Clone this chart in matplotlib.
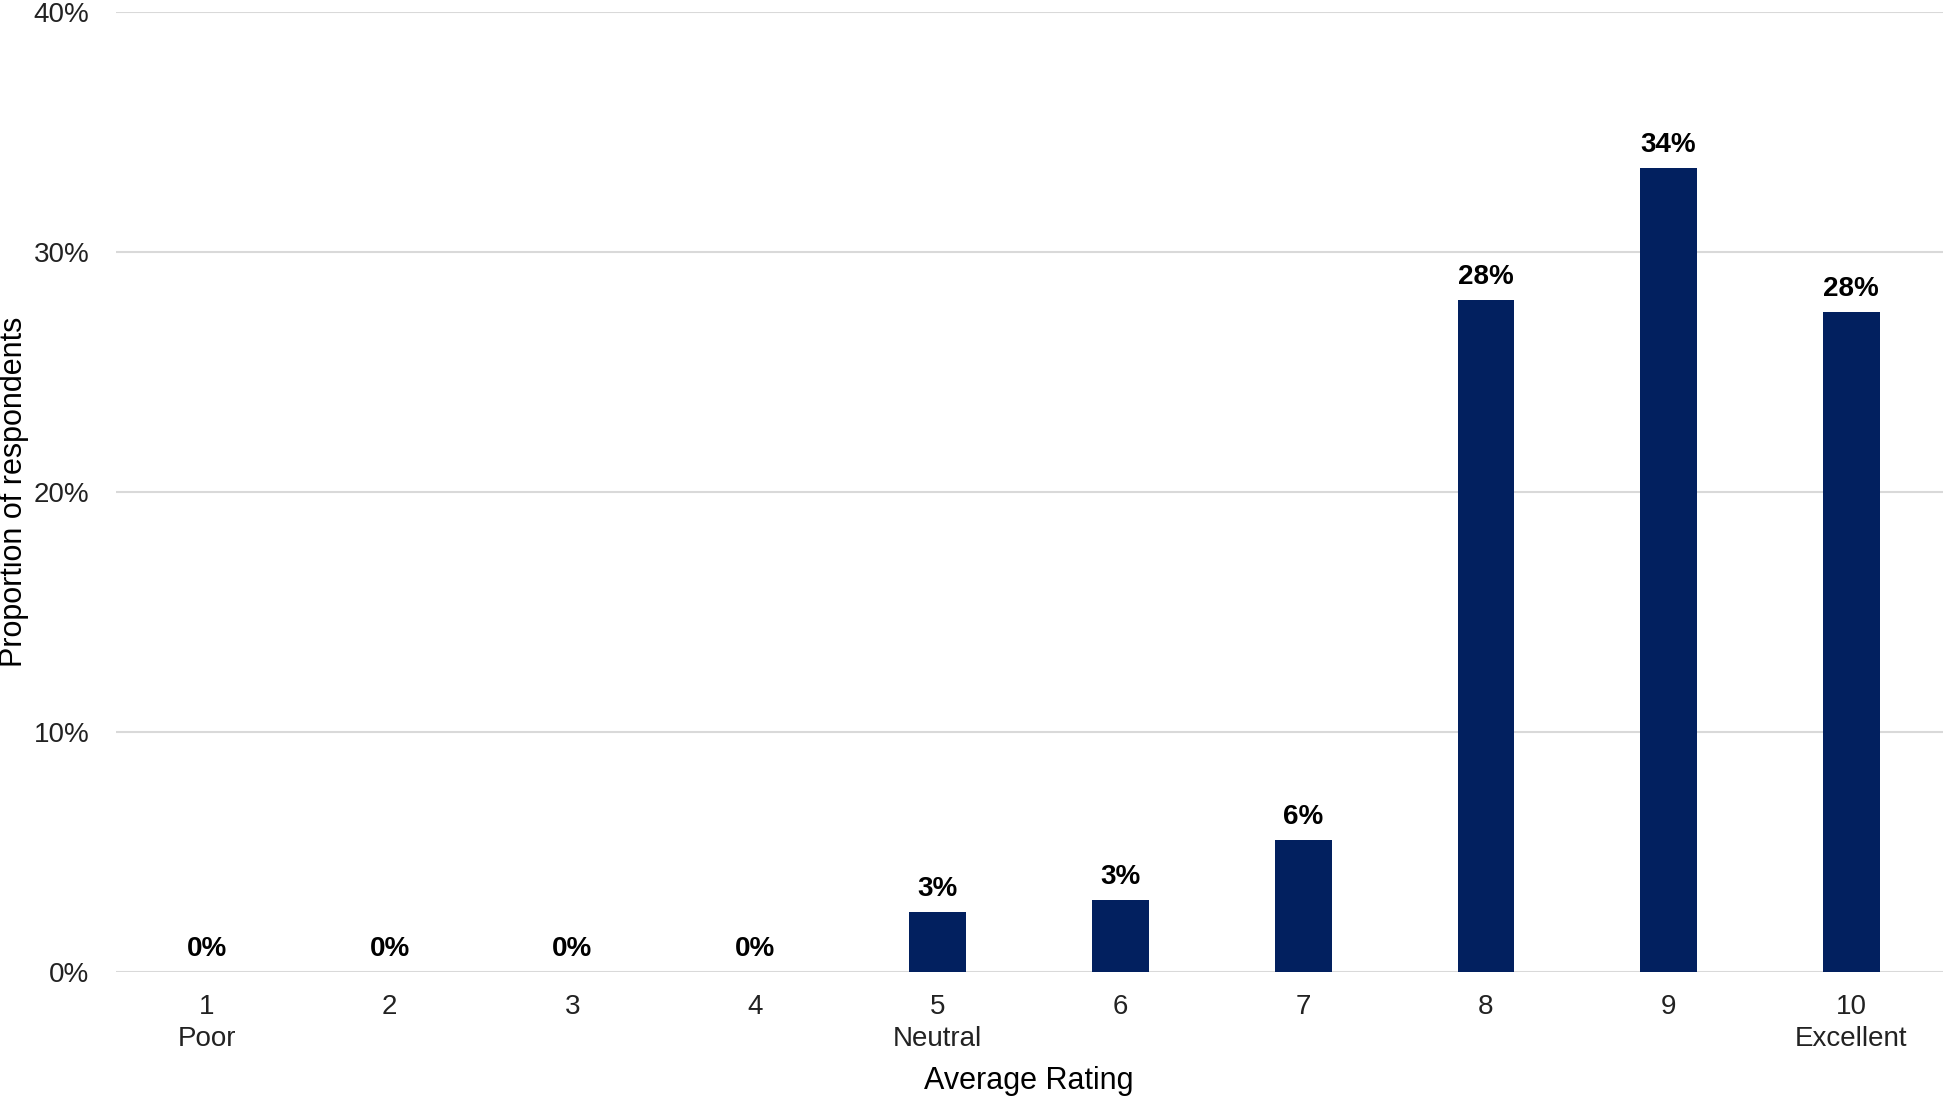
import matplotlib
matplotlib.use("Agg")
import matplotlib.pyplot as plt

ratings = [1, 2, 3, 4, 5, 6, 7, 8, 9, 10]
tick_labels = ["1\nPoor", "2", "3", "4", "5\nNeutral", "6", "7", "8", "9", "10\nExcellent"]
shares = [0, 0, 0, 0, 2.5, 3.0, 5.5, 28.0, 33.5, 27.5]

plt.rcParams['font.family'] = ['Liberation Sans', 'DejaVu Sans']

fig = plt.figure(figsize=(19.44, 10.96), dpi=100)
ax = fig.add_axes([0.0595, 0.1131, 0.9398, 0.8759])

ax.bar(ratings, shares, width=0.31, color="#02205F", zorder=3)
for x, v in zip(ratings, shares):
    # round half up, like a spreadsheet would
    ax.text(x, v + 0.4, f"{int(v + 0.5)}%", ha="center", va="bottom",
            fontsize=20, fontweight="bold", color="black")

ax.set_xlim(0.5, 10.5)
ax.set_ylim(0, 40)
ax.set_yticks([0, 10, 20, 30, 40])
ax.set_yticklabels(["0%", "10%", "20%", "30%", "40%"])
ax.set_xticks(ratings)
ax.set_xticklabels(tick_labels, linespacing=1.3)
ax.tick_params(axis="both", length=0, labelsize=20, colors="#222222")
ax.tick_params(axis="x", pad=16)
ax.tick_params(axis="y", pad=19)
ax.grid(axis="y", color="#d9d9d9", linewidth=1.5, zorder=0)
for s in ax.spines.values():
    s.set_visible(False)

ax.set_xlabel("Average Rating", fontsize=22, labelpad=10)
ax.set_ylabel("Proportion of respondents", fontsize=22)
ax.yaxis.set_label_coords(-0.0476, 0.5)

fig.savefig("out.png", dpi=100)
